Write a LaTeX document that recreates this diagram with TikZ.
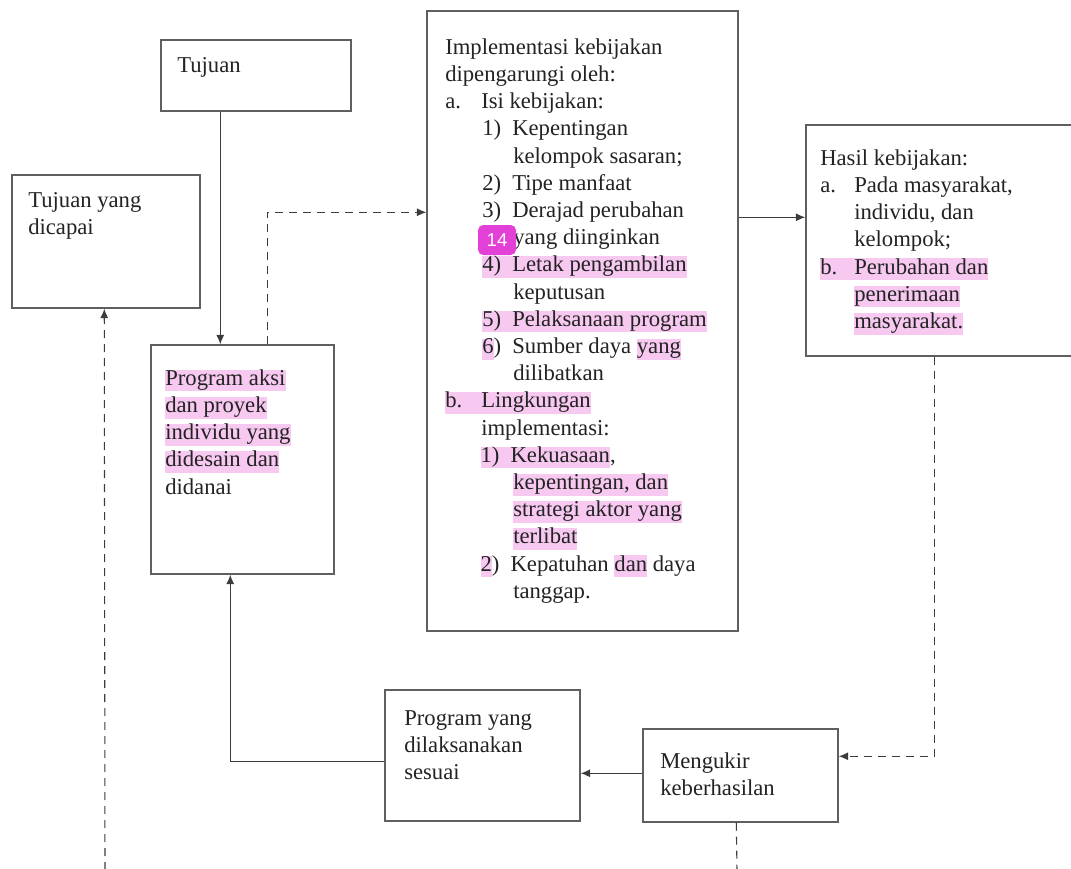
\documentclass[tikz,border=0pt]{standalone}
\usepackage{fontspec}
\setmainfont{Liberation Serif}
\newfontfamily\badgefont{Liberation Sans}
\usetikzlibrary{arrows.meta,calc,fit}
\definecolor{hlpink}{RGB}{247,200,240}
\definecolor{badgemag}{RGB}{226,64,214}
\definecolor{boxgray}{RGB}{95,95,95}
\definecolor{linegray}{RGB}{60,60,60}
\definecolor{txt}{RGB}{35,35,35}
\newcommand{\hlt}[1]{{\setlength{\fboxsep}{0pt}\colorbox{hlpink}{\rule[-4.5pt]{0pt}{15.75pt}#1}}}
\newcommand{\fl}{\rule{0pt}{13pt}}
\newcommand{\lab}[1]{\makebox[27pt][l]{#1}}
\newcommand{\sublab}[1]{\makebox[22.5pt][l]{#1}}
\begin{document}
\begin{tikzpicture}[x=0.75pt,y=-0.75pt,
  box/.style={draw=boxgray, line width=1.1pt, inner sep=0pt, fill=white},
  txtnode/.style={anchor=north west, inner sep=0pt, align=left, text=txt, font=\fontsize{17}{20.4}\selectfont},
  arr/.style={draw=linegray, line width=0.8pt, -{Latex[length=7pt,width=6pt]}},
  dasharr/.style={arr, dash pattern=on 6pt off 4.5pt},
  dashline/.style={draw=linegray, line width=0.8pt, dash pattern=on 6pt off 4.5pt},
  badge/.style={fill=badgemag, rounded corners=4pt, text=white, inner sep=0pt, minimum width=28.5pt, minimum height=22.5pt, font=\badgefont\fontsize{14}{14}\selectfont}
]
\useasboundingbox (0,0) rectangle (1071,868);

% boxes
\node[box, fit={(161,40) (351,111)}] (tujuan) {};
\node[box, fit={(12,175) (200,308)}] (tyd) {};
\node[box, fit={(151,345) (334,574)}] (prog) {};
\node[box, fit={(427,11) (738,631)}] (impl) {};
\node[box, fit={(806,125) (1076,356)}] (hasil) {};
\node[box, fit={(385,690) (580,821)}] (pyang) {};
\node[box, fit={(643,729) (838,822)}] (meng) {};

% texts
\node[txtnode] (tujuantxt) at (177,54.7) {\fl Tujuan};
\node[txtnode] (tydtxt) at (28,189.7) {\fl Tujuan yang\\dicapai};
\node[txtnode] (progtxt) at (165,367.7) {\fl\hlt{Program aksi}\\\hlt{dan proyek}\\\hlt{individu yang}\\\hlt{didesain dan}\\didanai};
\node[txtnode] (impltxt) at (445,36.7) {\fl Implementasi kebijakan\\
dipengarungi oleh:\\
\lab{a.}Isi kebijakan:\\
\hspace*{27.75pt}\sublab{1)}Kepentingan\\
\hspace*{51pt}kelompok sasaran;\\
\hspace*{27.75pt}\sublab{2)}Tipe manfaat\\
\hspace*{27.75pt}\sublab{3)}Derajad perubahan\\
\hspace*{51pt}yang diinginkan\\
\hspace*{27.75pt}\hlt{\sublab{4)}Letak pengambilan}\\
\hspace*{51pt}keputusan\\
\hspace*{27.75pt}\hlt{\sublab{5)}Pelaksanaan program}\\
\hspace*{27.75pt}\sublab{\hlt{6})}Sumber daya \hlt{yang}\\
\hspace*{51pt}dilibatkan\\
\hlt{\lab{b.}Lingkungan}\\
\hspace*{27pt}implementasi:\\
\hspace*{26.5pt}\hlt{\sublab{1)}Kekuasaan},\\
\hspace*{51pt}\hlt{kepentingan, dan}\\
\hspace*{51pt}\hlt{strategi aktor yang}\\
\hspace*{51pt}\hlt{terlibat}\\
\hspace*{26.5pt}\sublab{\hlt{2})}Kepatuhan \hlt{dan} daya\\
\hspace*{51pt}tanggap.};
\node[txtnode] (hasiltxt) at (820,147.7) {\fl Hasil kebijakan:\\
\makebox[25.5pt][l]{a.}Pada masyarakat,\\
\hspace*{25.5pt}individu, dan\\
\hspace*{25.5pt}kelompok;\\
\hlt{\makebox[25.5pt][l]{b.}Perubahan dan}\\
\hspace*{25.5pt}\hlt{penerimaan}\\
\hspace*{25.5pt}\hlt{masyarakat.}};
\node[txtnode] (pyangtxt) at (404,707.7) {\fl Program yang\\dilaksanakan\\sesuai};
\node[txtnode] (mengtxt) at (660,750.7) {\fl Mengukir\\keberhasilan};

\node[badge] (badge14) at (497,240) {14};

% connectors
\draw[arr] ($(tujuan.south west)+(60,0)$) -- ($(prog.north west)+(70,0)$);
\draw[dasharr] ($(prog.north west)+(117,0)$) |- ($(impl.north west)+(0,202)$);
\draw[arr] ($(impl.north east)+(0,207)$) -- ($(hasil.north west)+(0,93)$);
\draw[dasharr] ($(hasil.south west)+(129,0)$) |- ($(meng.north east)+(0,28)$);
\draw[arr] ($(meng.north west)+(0,45)$) -- ($(pyang.north east)+(0,84)$);
\draw[arr] ($(pyang.north west)+(0,72)$) -| ($(prog.south west)+(80,0)$);
\coordinate (mbot) at (737,870);
\draw[dashline] ($(meng.south west)+(94,0)$) -- (mbot);
\coordinate (lbot) at (105,870);
\draw[dasharr] (lbot) -- ($(tyd.south west)+(93,0)$);
\end{tikzpicture}
\end{document}
